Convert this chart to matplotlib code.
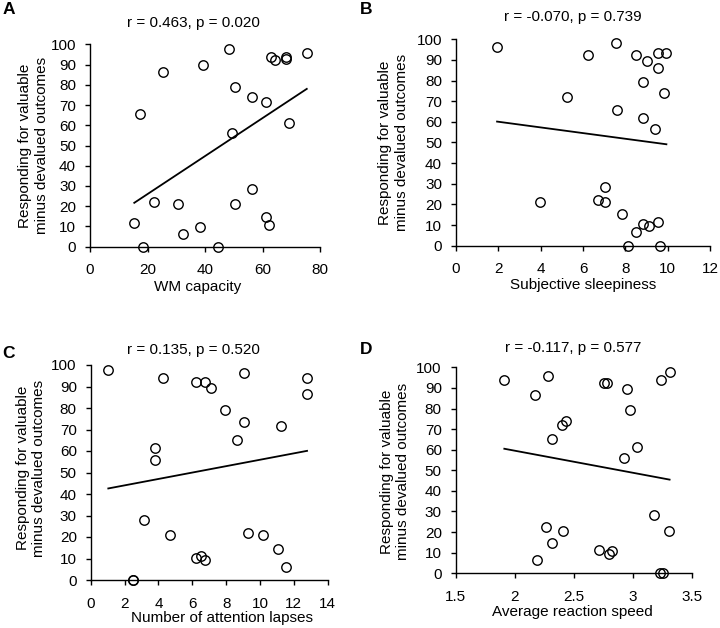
import numpy as np
import matplotlib
matplotlib.use("Agg")
import matplotlib.pyplot as plt

plt.rcParams['font.family'] = ['Liberation Sans', 'DejaVu Sans']

# Panel A: working memory capacity
wm_capacity = [15.4, 18.6, 17.4, 22.4, 25.4, 30.6, 32.3, 38.3, 39.3, 44.5,
               48.5, 49.4, 50.3, 50.4, 56.3, 56.3, 61.2, 61.2, 62.1, 63.1,
               64.3, 68.3, 68.3, 69.2, 75.4]
resp_a = [11.7, 0.0, 65.6, 22.1, 86.3, 21.1, 6.4, 9.6, 89.8, 0.0,
          97.9, 56.2, 79.1, 21.1, 73.8, 28.5, 71.7, 14.8, 10.5, 93.9,
          92.4, 93.6, 92.6, 61.3, 95.9]

# Panel B: subjective sleepiness
sleepiness = [1.94, 3.95, 5.24, 6.24, 7.54, 7.62, 7.04, 6.71, 7.04, 7.84,
              8.13, 8.52, 8.82, 9.13, 9.54, 9.62, 8.52, 9.02, 8.83, 8.83,
              9.53, 9.54, 9.42, 9.94, 9.83]
resp_b = [96.1, 21.2, 72.1, 92.6, 98.1, 65.8, 28.4, 22.3, 21.2, 15.2,
          0.0, 6.5, 10.3, 9.4, 11.6, 0.0, 92.6, 89.3, 79.2, 61.7,
          93.4, 86.3, 56.7, 93.4, 74.0]

# Panel C: attention lapses
lapses = [1.04, 2.48, 2.50, 3.15, 3.78, 3.78, 4.27, 4.70, 6.20, 6.20,
          6.52, 6.77, 6.77, 7.09, 7.91, 8.64, 9.07, 9.07, 9.27, 10.16,
          11.08, 11.26, 11.56, 12.78, 12.78]
resp_c = [97.8, 0.0, 0.0, 27.9, 61.2, 56.0, 93.8, 21.1, 92.2, 10.1,
          11.2, 9.1, 92.2, 89.5, 79.1, 65.3, 96.4, 73.6, 21.9, 20.9,
          14.6, 71.8, 6.2, 93.8, 86.5]

# Panel D: average reaction speed
reaction_speed = [1.911, 2.173, 2.280, 2.261, 2.184, 2.314, 2.314, 2.401, 2.432,
                  2.404, 2.708, 2.756, 2.779, 2.796, 2.818, 2.945, 2.976, 2.923,
                  3.035, 3.179, 3.227, 3.249, 3.235, 3.308, 3.306]
resp_d = [93.7, 86.6, 95.8, 22.3, 6.5, 14.7, 65.4, 72.0, 74.1,
          20.7, 11.5, 92.6, 92.6, 9.4, 10.7, 89.6, 79.3, 56.1,
          61.3, 28.5, 0.0, 0.0, 93.7, 97.7, 20.7]

stats = ["r = 0.463, p = 0.020", "r = -0.070, p = 0.739",
         "r = 0.135, p = 0.520", "r = -0.117, p = 0.577"]
xlabels = ["WM capacity", "Subjective sleepiness",
           "Number of attention lapses", "Average reaction speed"]
letters = ["A", "B", "C", "D"]
xlims = [(0, 80), (0, 12), (0, 14), (1.5, 3.5)]
xticks = [np.arange(0, 81, 20), np.arange(0, 13, 2),
          np.arange(0, 15, 2), [1.5, 2, 2.5, 3, 3.5]]
xticklabels = [None, None, None, ["1.5", "2", "2.5", "3", "3.5"]]

ylabel = "Responding for valuable\nminus devalued outcomes"

# axes boxes in pixels: left, top, right, bottom
boxes = [(90, 44.3, 320, 246.7), (456, 39.3, 710, 245.7),
         (90.7, 365, 327.7, 580), (455.7, 367.3, 692.3, 573.3)]
# text positions in axes fraction
title_pos = [(0.45, 1.105), (0.461, 1.109), (0.434, 1.07), (0.496, 1.092)]
xlabel_pos = [(0.467, -0.199), (0.502, -0.190), (0.554, -0.177), (0.494, -0.186)]
ylabel_pos = [(-0.246, 0.5), (-0.246, 0.5), (-0.252, 0.521), (-0.257, 0.493)]
letter_pos = [(8.5, 10), (366, 10), (8.5, 354), (366, 349)]

W, H = 720, 628
fig = plt.figure(figsize=(W / 100, H / 100), dpi=100)

data = [(wm_capacity, resp_a), (sleepiness, resp_b),
        (lapses, resp_c), (reaction_speed, resp_d)]

for i, (xs, ys) in enumerate(data):
    l, t, r, b = boxes[i]
    ax = fig.add_axes([l / W, 1 - b / H, (r - l) / W, (b - t) / H])
    xs = np.array(xs)
    ys = np.array(ys)

    ax.plot(xs, ys, 'o', mfc='none', mec='black', ms=6.8, mew=1.0,
            clip_on=False, zorder=3)

    # least squares line over the data range
    slope, icpt = np.polyfit(xs, ys, 1)
    fx = np.array([xs.min(), xs.max()])
    ax.plot(fx, slope * fx + icpt, color='black', lw=1.3)

    ax.set_xlim(*xlims[i])
    ax.set_ylim(0, 100)
    ax.set_xticks(xticks[i])
    if xticklabels[i] is not None:
        ax.set_xticklabels(xticklabels[i])
    ax.set_yticks(np.arange(0, 101, 10))

    for s in ['top', 'right']:
        ax.spines[s].set_visible(False)
    for s in ['left', 'bottom']:
        ax.spines[s].set_linewidth(1.0)
    ax.tick_params(axis='both', direction='out', length=3.5, width=1.0,
                   labelsize=11)
    ax.tick_params(axis='y', pad=6.5)
    ax.tick_params(axis='x', pad=8.5)

    ax.text(*title_pos[i], stats[i], transform=ax.transAxes,
            ha='center', va='center', fontsize=11)
    ax.text(*xlabel_pos[i], xlabels[i], transform=ax.transAxes,
            ha='center', va='center', fontsize=11)
    ax.text(*ylabel_pos[i], ylabel, transform=ax.transAxes, rotation=90,
            ha='center', va='center', multialignment='center', fontsize=11)

    lx, ly = letter_pos[i]
    fig.text(lx / W, 1 - ly / H, letters[i], ha='center', va='center',
             fontsize=12.5, fontweight='bold')

fig.savefig("out.png", dpi=100)
